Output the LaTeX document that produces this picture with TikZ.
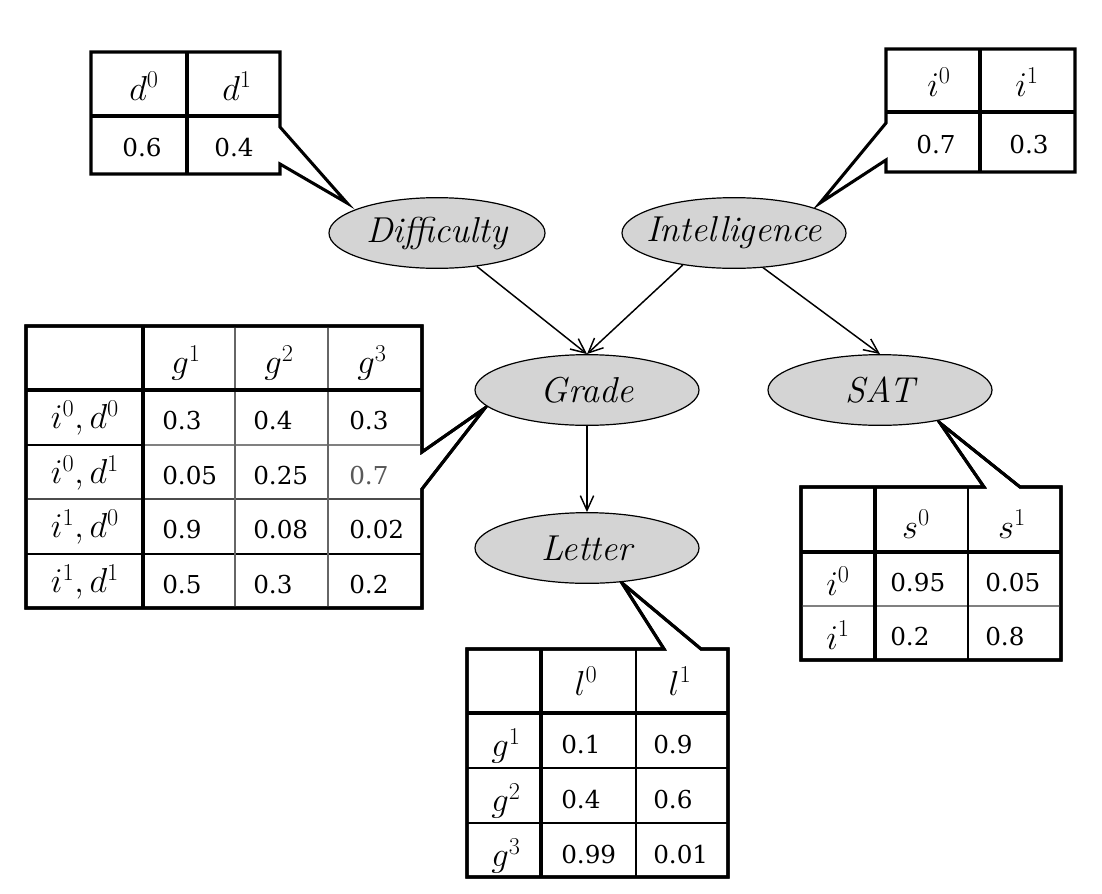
\RequirePackage{fix-cm}
\documentclass[tikz,border=0pt]{standalone}
\usepackage{fontspec}
\newfontfamily\numfont{DejaVu Serif}
\usetikzlibrary{shapes.geometric,arrows.meta,backgrounds}
\tikzset{
  var/.style={ellipse, draw=black, line width=0.9pt, fill=black!17,
    minimum width=168pt, minimum height=53pt, inner xsep=-14pt, inner ysep=0pt,
    font=\fontsize{27}{32}\selectfont\itshape},
  edge/.style={line width=1.1pt, -{Straight Barb[length=11pt,width=10pt,line width=1.1pt]}},
  cpd/.style={draw=black, fill=white, line width=2.3pt, line join=miter},
  thickrule/.style={line width=2.3pt},
  thinrule/.style={line width=0.8pt},
  grayrule/.style={line width=0.8pt, draw=black!50},
  val/.style={inner sep=0pt, font=\numfont\fontsize{18.5}{22}\selectfont, anchor=west},
  hdr/.style={inner sep=0pt, font=\fontsize{26}{30}\selectfont},
  num/.style={inner sep=0pt, font=\numfont\fontsize{18.5}{22}\selectfont},
}
\begin{document}
\begin{tikzpicture}[x=0.75pt,y=-0.75pt]
\useasboundingbox (0,0) rectangle (1102,893);

% ---------- variables ----------
\node[var, minimum width=162pt] (D) at (437,233) {Difficulty};
\node[var] (I) at (734,233) {Intelligence};
\node[var] (G) at (587,390) {Grade};
\node[var] (S) at (880,390) {SAT};
\node[var] (L) at (587,548) {Letter};

% ---------- edges ----------
\draw[edge] (D.-40) -- (G.north);
\draw[edge] (I.212) -- (G.north);
\draw[edge] (I.-50) -- (S.north);
\draw[edge] (G) -- (L);

% ---------- tables ----------
\begin{scope}[on background layer]
\coordinate (tD) at (347,203);
\coordinate (tI) at (820,203);
\coordinate (tG) at (485,408);
\coordinate (tS) at (940,423);
\coordinate (tL) at (622,583);

% Difficulty CPD
\draw[cpd] (91,52) -- (280,52) -- (280,127) -- (tD) -- (280,164) -- (280,174) -- (91,174) -- cycle;
\draw[thickrule] (187,52) -- (187,174);
\draw[thickrule] (91,116) -- (280,116);
\node[hdr] (dh0) at (144,86) {$d^0$};
\node[hdr] (dh1) at (237,86) {$d^1$};
\node[num] (dv0) at (142,148) {0.6};
\node[num] (dv1) at (234,148) {0.4};

% Intelligence CPD
\draw[cpd] (886,49) -- (1075,49) -- (1075,172) -- (886,172) -- (886,160) -- (tI) -- (886,123) -- cycle;
\draw[thickrule] (980,49) -- (980,172);
\draw[thickrule] (886,112) -- (1075,112);
\node[hdr] (ih0) at (939,82) {$i^0$};
\node[hdr] (ih1) at (1027,82) {$i^1$};
\node[num] (iv0) at (936,145) {0.7};
\node[num] (iv1) at (1029,145) {0.3};

% Grade CPD
\draw[cpd] (26,326) -- (422,326) -- (422,452) -- (tG) -- (422,489) -- (422,608) -- (26,608) -- cycle;
\draw[grayrule] (143,445) -- (422,445);
\draw[thinrule, draw=black!70] (26,499) -- (422,499);
\draw[thinrule] (26,554) -- (422,554);
\draw[thinrule, draw=black!60] (235,326) -- (235,608);
\draw[thinrule, draw=black!60] (328,326) -- (328,608);
\draw[thinrule] (26,445) -- (143,445);
\draw[thickrule] (26,390) -- (422,390);
\draw[thickrule] (143,326) -- (143,608);
\draw[cpd, fill=none] (26,326) -- (422,326) -- (422,452) -- (tG) -- (422,489) -- (422,608) -- (26,608) -- cycle;
\node[hdr] (gh1) at (186,363) {$g^1$};
\node[hdr] (gh2) at (279,363) {$g^2$};
\node[hdr] (gh3) at (372,363) {$g^3$};
\node[hdr] (gr1) at (85,418) {$i^0, d^0$};
\node[hdr] (gr2) at (85,473) {$i^0, d^1$};
\node[hdr] (gr3) at (85,527) {$i^1, d^0$};
\node[hdr] (gr4) at (85,582) {$i^1, d^1$};
\foreach \r/\y/\a/\b/\c in {1/421/0.3/0.4/0.3, 2/476/0.05/0.25/{}, 3/530/0.9/0.08/0.02, 4/585/0.5/0.3/0.2}{
  \node[val] (ga\r) at (162,\y) {\a};
  \node[val] (gb\r) at (253,\y) {\b};
  \node[val] (gc\r) at (349,\y) {\c};
}
\node[val, text=black!65] (gc2x) at (349,476) {0.7};

% SAT CPD
\draw[cpd] (801,487) -- (984,487) -- (tS) -- (1020,487) -- (1061,487) -- (1061,660) -- (801,660) -- cycle;
\draw[grayrule] (801,606) -- (1061,606);
\draw[thinrule] (968,487) -- (968,660);
\draw[thickrule] (801,552) -- (1061,552);
\draw[thickrule] (875,487) -- (875,660);
\draw[cpd, fill=none] (801,487) -- (984,487) -- (tS) -- (1020,487) -- (1061,487) -- (1061,660) -- (801,660) -- cycle;
\node[hdr] (sh0) at (916,524) {$s^0$};
\node[hdr] (sh1) at (1012,524) {$s^1$};
\node[hdr] (sr0) at (838,581) {$i^0$};
\node[hdr] (sr1) at (838,635) {$i^1$};
\node[val] (sa0) at (890,583) {0.95};
\node[val] (sb0) at (985,583) {0.05};
\node[val] (sa1) at (890,637) {0.2};
\node[val] (sb1) at (985,637) {0.8};

% Letter CPD
\draw[cpd] (467,649) -- (664,649) -- (tL) -- (701,649) -- (728,649) -- (728,877) -- (467,877) -- cycle;
\draw[thinrule] (467,768) -- (728,768);
\draw[thinrule] (467,823) -- (728,823);
\draw[thinrule] (636,649) -- (636,877);
\draw[thickrule] (467,713) -- (728,713);
\draw[thickrule] (541,649) -- (541,877);
\draw[cpd, fill=none] (467,649) -- (664,649) -- (tL) -- (701,649) -- (728,649) -- (728,877) -- (467,877) -- cycle;
\node[hdr] (lh0) at (586,681) {$l^0$};
\node[hdr] (lh1) at (680,681) {$l^1$};
\node[hdr] (lr1) at (506,746) {$g^1$};
\node[hdr] (lr2) at (506,801) {$g^2$};
\node[hdr] (lr3) at (506,856) {$g^3$};
\node[val] (la1) at (561,745) {0.1};
\node[val] (lb1) at (653,745) {0.9};
\node[val] (la2) at (561,800) {0.4};
\node[val] (lb2) at (653,800) {0.6};
\node[val] (la3) at (561,855) {0.99};
\node[val] (lb3) at (653,855) {0.01};
\end{scope}
\end{tikzpicture}
\end{document}
